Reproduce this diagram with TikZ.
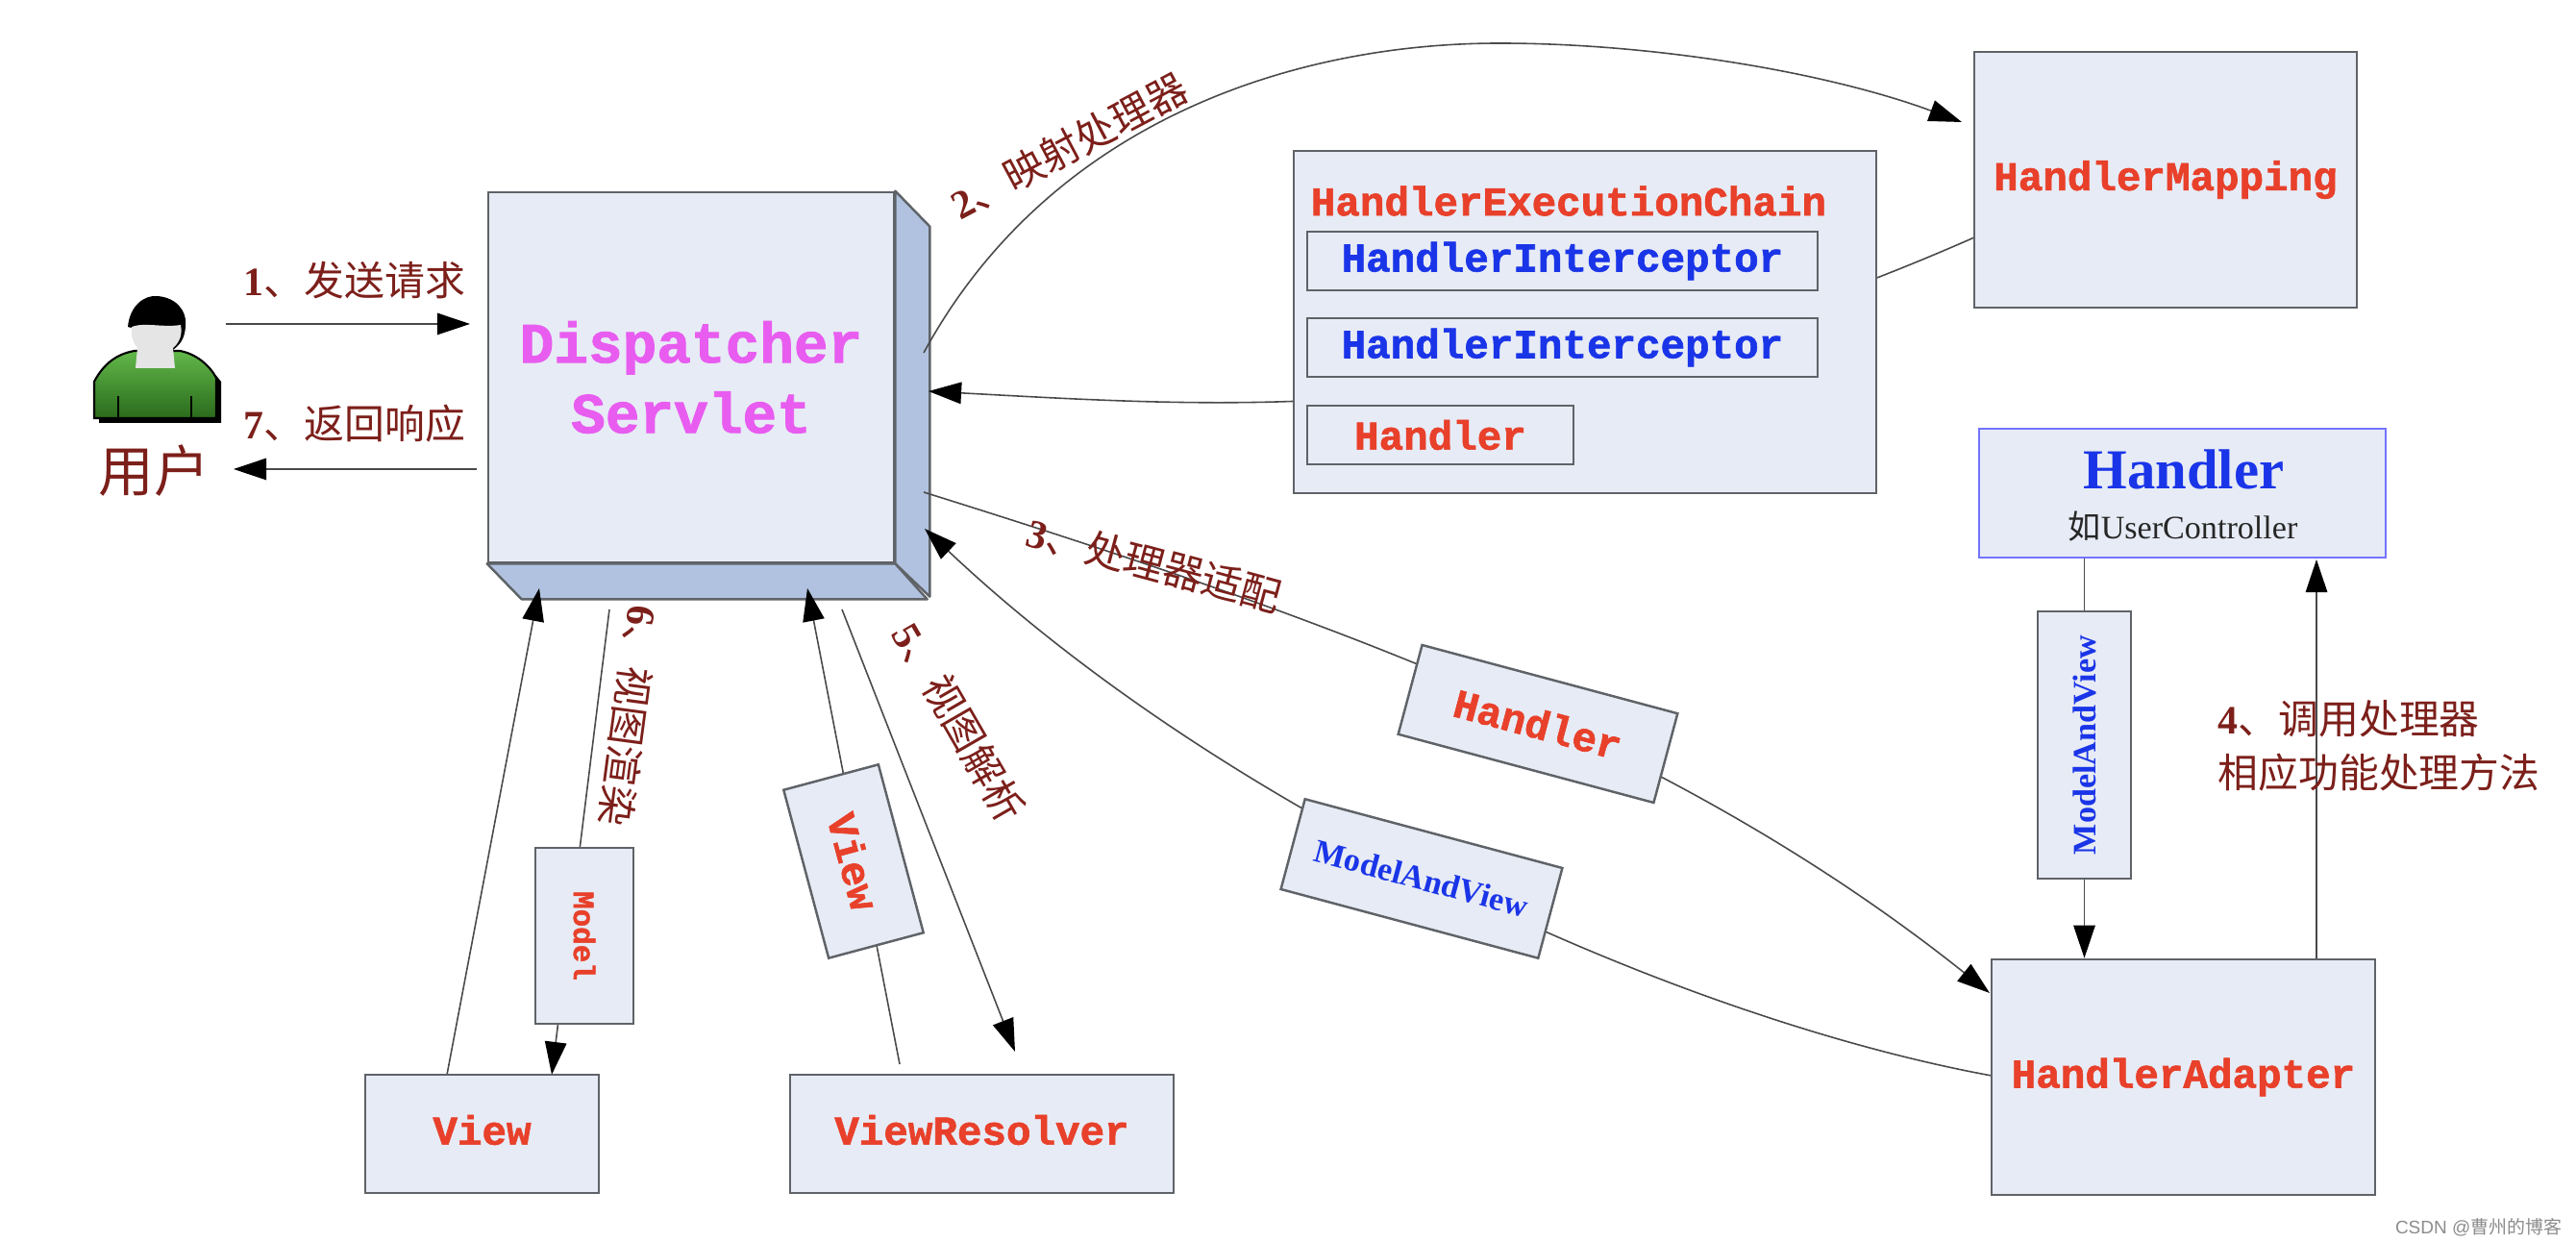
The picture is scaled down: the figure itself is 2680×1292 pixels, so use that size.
\documentclass[tikz,border=0pt]{standalone}
\usepackage{fontspec}
\setmainfont{Liberation Serif}
\setsansfont{Liberation Sans}
\newfontfamily\cjk{Noto Sans CJK SC}
\newfontfamily\courb{Liberation Mono}[BoldFont={Liberation Mono Bold},BoldFeatures={FakeBold=1.4}]
\usetikzlibrary{arrows.meta}
\definecolor{paneline}{HTML}{5F6368}
\definecolor{panefill}{HTML}{E7EBF5}
\definecolor{sidefill}{HTML}{B0C2DF}
\definecolor{wirecol}{HTML}{4A4A4A}
\definecolor{stepcol}{HTML}{7C1F1A}
\definecolor{redcode}{HTML}{E8402A}
\definecolor{bluecode}{HTML}{1A35E8}
\definecolor{pinkcode}{HTML}{E85CF0}
\definecolor{shirttop}{HTML}{62B84A}
\definecolor{shirtmid}{HTML}{3F982B}
\definecolor{shirtlow}{HTML}{2A6A1C}
\pgfdeclarelayer{dslayer}
\pgfdeclarelayer{wirelayer}
\pgfsetlayers{dslayer,wirelayer,main}
\tikzset{
    pane/.style={draw=paneline,fill=panefill,line width=0.7pt,inner sep=0pt},
    redmono/.style={font=\courb\bfseries\fontsize{12.1}{14}\selectfont,text=redcode},
    bluemono/.style={font=\courb\bfseries\fontsize{12.1}{14}\selectfont,text=bluecode},
    steplabel/.style={font=\fontsize{11.9}{15.9}\selectfont,text=stepcol,inner sep=0pt},
    bluetimes/.style={font=\bfseries\fontsize{9.7}{12}\selectfont,text=bluecode},
    wire/.style={draw=wirecol,line width=0.45pt},
    arrowwire/.style={wire,-{Triangle[length=9.7pt,width=6.4pt,color=black,fill=black]}}
}
\newcommand{\steptext}[2]{{\bfseries #1}{\cjk #2}}
\begin{document}
\begin{tikzpicture}[x=0.01cm,y=-0.01cm]
    \useasboundingbox (0,0) rectangle (2680,1292);
    %dispatcher servlet
    \begin{pgfonlayer}{dslayer}
        \node[pane,minimum width=4.22cm,minimum height=3.85cm,align=center,
              font=\courb\bfseries\fontsize{16.9}{20.8}\selectfont,text=pinkcode] (ds) at (719,392.5) {Dispatcher\\Servlet};
        \draw[draw=paneline,fill=sidefill,line width=0.7pt,line join=round] (ds.north east)--++(36,37)--++(0,385)--(ds.south east)--cycle;
        \draw[draw=paneline,fill=sidefill,line width=0.7pt,line join=round] (ds.south west)--++(36,37)--++(422,0)--(ds.south east)--cycle;
    \end{pgfonlayer}
    %user
    \fill[black] (103,440)--(103,400)..controls (118,378) and (128,370) .. (145,369)--(192,369)..controls (212,376) and (225,390) .. (230,397)--(230,440)--cycle;
    \draw[black,line width=0.6pt,top color=shirttop,middle color=shirtmid,bottom color=shirtlow]
        (98,435)--(98,397)..controls (108,378) and (122,368) .. (140,365)--(187,365)..controls (204,368) and (218,380) .. (225,393)--(225,435)--cycle;
    \draw[black,line width=0.8pt] (123,412)--(123,435);
    \draw[black,line width=0.8pt] (199,412)--(199,435);
    \fill[black] (133,340)..controls (135,318) and (150,307) .. (163,308)..controls (182,309) and (195,322) .. (193,340)..controls (192,352) and (188,358) .. (180,364)--(170,350)--cycle;
    \fill[black!10] (137,340)..controls (150,335) and (170,341) .. (188,338)..controls (190,348) and (187,356) .. (180,362)--(182,383)--(141,383)--(143,362)..controls (138,356) and (136,348) .. (137,340)--cycle;
    \node[text=stepcol,inner sep=0pt,font=\cjk\fontsize{16.4}{18}\selectfont] (userlabel) at (160,490) {用户};
    %chain
    \node[pane,minimum width=6.06cm,minimum height=3.56cm] (chain) at (1649,335) {};
    \node[redmono,inner sep=0pt] (chaintitle) at (1632,209) {HandlerExecutionChain};
    \node[pane,bluemono,minimum width=5.31cm,minimum height=0.61cm] (interceptorA) at (1625.5,271.5) {HandlerInterceptor};
    \node[pane,bluemono,minimum width=5.31cm,minimum height=0.61cm] (interceptorB) at (1625.5,361.5) {HandlerInterceptor};
    \node[pane,redmono,minimum width=2.77cm,minimum height=0.61cm] (chainhandler) at (1498.5,452.5) {Handler};
    %right side
    \node[pane,redmono,minimum width=3.98cm,minimum height=2.66cm] (mapping) at (2253,187) {HandlerMapping};
    \node[pane,draw=blue!55!white,minimum width=4.23cm,minimum height=1.34cm] (controller) at (2270.5,513) {};
    \node[text=bluecode,font=\bfseries\fontsize{16.7}{20}\selectfont,inner sep=0pt] (controllername) at (2272,488) {Handler};
    \node[text=black!85,font=\fontsize{9.7}{12}\selectfont,inner sep=0pt] (controllernote) at (2271,548) {{\cjk 如}UserController};
    \node[pane,bluetimes,minimum width=2.78cm,minimum height=0.97cm,rotate=90] (mavdown) at (2168.5,775) {ModelAndView};
    \node[pane,redmono,minimum width=3.99cm,minimum height=2.45cm] (adapter) at (2271.5,1120.5) {HandlerAdapter};
    %tilted boxes
    \node[pane,redmono,minimum width=2.75cm,minimum height=0.96cm,rotate=-15] (handlertilt) at (1600,753) {Handler};
    \node[pane,bluetimes,minimum width=2.77cm,minimum height=0.97cm,rotate=-15] (mavtilt) at (1479,914) {ModelAndView};
    \node[pane,redmono,minimum width=1.81cm,minimum height=1.02cm,rotate=-75] (viewtilt) at (888,896) {View};
    \node[pane,minimum width=1.83cm,minimum height=1.02cm,rotate=-90,font=\courb\bfseries\fontsize{8.8}{10}\selectfont,text=redcode] (model) at (608,973.5) {Model};
    %bottom boxes
    \node[pane,redmono,text depth=2.4pt,minimum width=2.43cm,minimum height=1.23cm] (view) at (501.5,1179.5) {View};
    \node[pane,redmono,text depth=2.4pt,minimum width=3.99cm,minimum height=1.23cm] (resolver) at (1021.5,1179.5) {ViewResolver};
    %free ends
    \coordinate (userout) at (235,337);
    \coordinate (dsin) at (489,337);
    \coordinate (dsout) at (496,488);
    \coordinate (userin) at (243,488);
    \coordinate (dsmap) at (961,367);
    \coordinate (arc) at (1560,45);
    \coordinate (maptip) at (2041,127);
    \coordinate (mapout) at (2054,247);
    \coordinate (dschain) at (966,407);
    \coordinate (dsadapt) at (961,512);
    \coordinate (adapttip) at (2070,1033);
    \coordinate (adaptout) at (2072,1119);
    \coordinate (dsback) at (962,550);
    \coordinate (handlerup) at (2410,998);
    \coordinate (handlertip) at (2410,582);
    \coordinate (viewout) at (465,1118);
    \coordinate (dsview) at (561,612);
    \coordinate (dsrender) at (634,634);
    \coordinate (viewtip) at (574,1118);
    \coordinate (dsresolve) at (876,634);
    \coordinate (resolvertip) at (1056,1094);
    \coordinate (resolverout) at (936,1107);
    \coordinate (dsresolved) at (840,612);
    %wires
    \begin{pgfonlayer}{wirelayer}
        \draw[arrowwire] (userout)--(dsin);
        \draw[arrowwire] (dsout)--(userin);
        \draw[wire] (dsmap) .. controls (1090,130) and (1340,45) .. (arc);
        \draw[arrowwire] (arc) .. controls (1720,45) and (1900,75) .. (maptip);
        \draw[arrowwire] (mapout) .. controls (1600,447) and (1300,425) .. (dschain);
        \draw[arrowwire] (dsadapt) .. controls (1370,640) and (1740,770) .. (adapttip);
        \draw[arrowwire] (adaptout) .. controls (1750,1060) and (1280,850) .. (dsback);
        \draw[arrowwire] (controller.south -| mavdown)--(adapter.north -| mavdown);
        \draw[arrowwire] (handlerup)--(handlertip);
        \draw[arrowwire] (viewout)--(dsview);
        \draw[arrowwire] (dsrender)--(viewtip);
        \draw[arrowwire] (dsresolve)--(resolvertip);
        \draw[arrowwire] (resolverout)--(dsresolved);
    \end{pgfonlayer}
    %labels
    \node[steplabel] (stepA) at (369,292) {\steptext{1}{、发送请求}};
    \node[steplabel] (stepB) at (1112,152) [rotate=28] {\steptext{2}{、映射处理器}};
    \node[steplabel] (stepC) at (1201,587) [rotate=-15] {\steptext{3}{、处理器适配}};
    \node[steplabel,align=left,anchor=west] (stepD) at (2307,776) {\steptext{4}{、调用处理器}\\{\cjk 相应功能处理方法}};
    \node[steplabel] (stepE) at (998,751) [rotate=-60] {\steptext{5}{、视图解析}};
    \node[steplabel] (stepF) at (655,745) [rotate=-97.6] {\steptext{6}{、视图渲染}};
    \node[steplabel] (stepG) at (369,441) {\steptext{7}{、返回响应}};
    \node[text=black!45,inner sep=0pt,anchor=east,font=\sffamily\fontsize{5.4}{7}\selectfont] (mark) at (2666,1277) {CSDN @{\cjk 曹州的博客}};
\end{tikzpicture}
\end{document}
